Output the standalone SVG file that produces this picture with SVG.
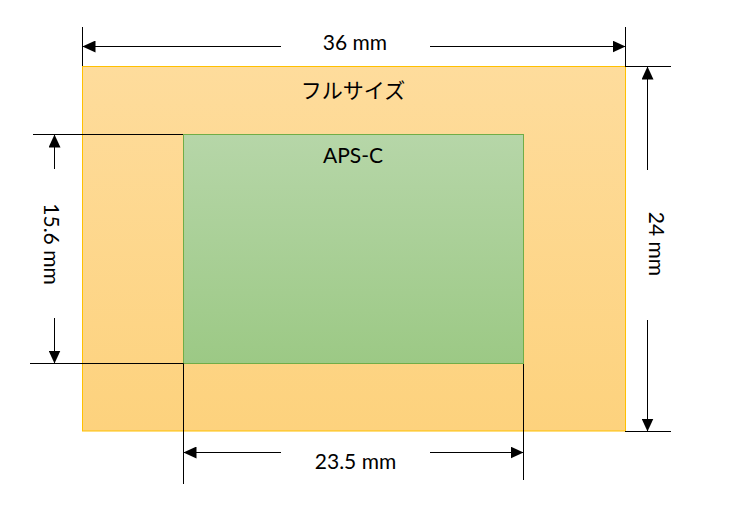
<svg xmlns="http://www.w3.org/2000/svg" width="734" height="518" viewBox="0 0 734 518">
  <defs>
    <linearGradient id="gOrange" x1="0" y1="0" x2="0" y2="1">
      <stop offset="0" stop-color="#FEDC9C"/>
      <stop offset="1" stop-color="#FDD27D"/>
    </linearGradient>
    <linearGradient id="gGreen" x1="0" y1="0" x2="0" y2="1">
      <stop offset="0" stop-color="#B6D6A8"/>
      <stop offset="1" stop-color="#9CC985"/>
    </linearGradient>
    <marker id="arr" markerUnits="userSpaceOnUse" markerWidth="13" markerHeight="12" refX="12.5" refY="6" orient="auto" viewBox="0 0 13 12">
      <path d="M0,0 L13,6 L0,12 Z" fill="#000"/>
    </marker>
  </defs>
  <style>
    .lbl { font-family: Lato, "Open Sans", "Liberation Sans", sans-serif; font-size: 21px; fill: #000; text-anchor: middle; }
    .jp { font-family: "Noto Sans CJK JP", sans-serif; font-size: 21px; fill: #000; text-anchor: middle; }
    .ext { stroke: #000; stroke-width: 1; fill: none; }
    .dim { stroke: #000; stroke-width: 1; fill: none; marker-end: url(#arr); }
  </style>
  <rect width="734" height="518" fill="#fff"/>

  <g id="full-frame">
    <rect x="82.5" y="66.5" width="543" height="364.5" fill="url(#gOrange)" stroke="#FFC000" stroke-width="1"/>
    <text class="jp" x="353" y="98">フルサイズ</text>
  </g>

  <g id="aps-c">
    <rect x="183.5" y="134.5" width="340" height="229" fill="url(#gGreen)" stroke="#70AD47" stroke-width="1"/>
    <text class="lbl" x="353" y="163">APS-C</text>
  </g>

  <g id="connectors">
    <!-- extension lines -->
    <line class="ext" x1="82.5" y1="27" x2="82.5" y2="66"/>
    <line class="ext" x1="625.5" y1="27" x2="625.5" y2="66"/>
    <line class="ext" x1="625" y1="66.5" x2="671" y2="66.5"/>
    <line class="ext" x1="625" y1="431.5" x2="671" y2="431.5"/>
    <line class="ext" x1="33" y1="134.5" x2="183" y2="134.5"/>
    <line class="ext" x1="30" y1="363.5" x2="183.5" y2="363.5"/>
    <line class="ext" x1="183.5" y1="363.5" x2="183.5" y2="484"/>
    <line class="ext" x1="523.5" y1="364" x2="523.5" y2="480"/>
    <!-- dimension arrows -->
    <line class="dim" x1="281" y1="46.5" x2="83" y2="46.5"/>
    <line class="dim" x1="430" y1="46.5" x2="625" y2="46.5"/>
    <line class="dim" x1="647.5" y1="170" x2="647.5" y2="67"/>
    <line class="dim" x1="647.5" y1="320" x2="647.5" y2="431"/>
    <line class="dim" x1="54.5" y1="169" x2="54.5" y2="135"/>
    <line class="dim" x1="54.5" y1="318" x2="54.5" y2="363"/>
    <line class="dim" x1="281" y1="452.5" x2="184" y2="452.5"/>
    <line class="dim" x1="430" y1="452.5" x2="523" y2="452.5"/>
  </g>

  <g id="labels">
    <text class="lbl" x="355" y="50">36 mm</text>
    <text class="lbl" x="355.5" y="469">23.5 mm</text>
    <text class="lbl" transform="translate(43.5,244) rotate(90)">15.6 mm</text>
    <text class="lbl" transform="translate(649,244) rotate(90)">24 mm</text>
  </g>
</svg>
